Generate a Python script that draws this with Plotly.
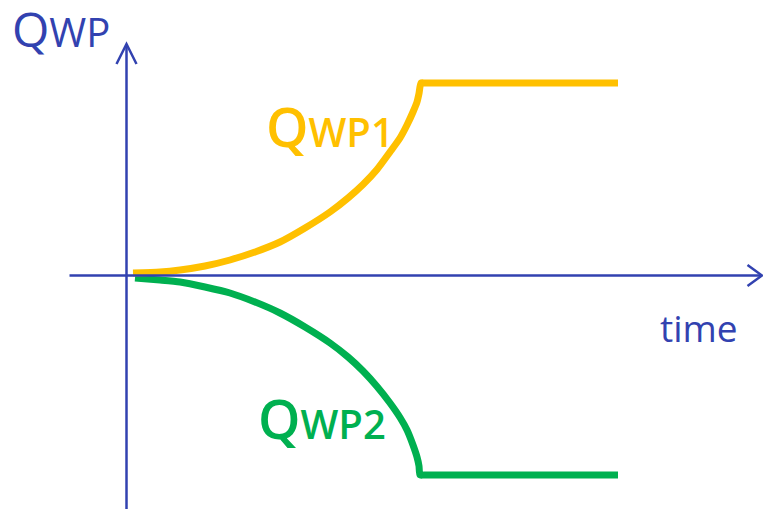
import plotly.graph_objects as go

# Data (chart units: time offset and flow, origin at the axes crossing)
t_wp1 = [6.5, 33.5, 53.5, 78.5, 103.5, 128.5, 153.5, 178.5, 203.5, 221.5,
         236.5, 250.5, 263.5, 273.5, 280.5, 286.5, 290.5, 292.5, 294.5, 298.5, 491.5]
q_wp1 = [2.5, 3.5, 5.5, 9.5, 15.5, 23.5, 33.5, 47.5, 63.5, 77.5,
         91, 106, 123.5, 137.5, 150.5, 163.5, 173.5, 182, 192.5, 192.5, 192.5]
t_wp2 = [8.5, 33.5, 53.5, 78.5, 103.5, 128.5, 153.5, 178.5, 203.5, 221.5,
         236.5, 250.5, 263.5, 273.5, 280.5, 286.5, 290.5, 292.5, 293.5, 297.5, 491.5]
q_wp2 = [-2.5, -4.5, -6.5, -11.5, -17.5, -26.5, -37.5, -51.5, -67.5, -81.5,
         -95.5, -111, -127.5, -142, -154.5, -169.5, -181.5, -190.5, -199.5, -199.5, -199.5]

axis_title_y = "Q<span style='font-size:40px'>WP</span>"
axis_title_x = "time"
label_wp1 = "Q<span style='font-size:40px'>WP1</span>"
label_wp2 = "Q<span style='font-size:40px'>WP2</span>"

BLUE = "#3242B0"
YELLOW = "#FFC000"
GREEN = "#00B050"
FONT = "Open Sans"

fig = go.Figure()

# axes lines and arrowheads
axis_line = dict(color=BLUE, width=2.5)
fig.add_shape(type="line", x0=0, x1=0, y0=-240, y1=231.5, line=axis_line)
fig.add_shape(type="line", x0=-57, x1=635.5, y0=0, y1=0, line=axis_line)
fig.add_shape(type="path", path="M -10,211.5 L 0,231.5 L 10,211.5", line=axis_line)
fig.add_shape(type="path", path="M 621,10.5 L 635.5,0 L 621,-10.5", line=axis_line)

fig.add_trace(go.Scatter(x=t_wp2, y=q_wp2, mode="lines",
                         line=dict(color=GREEN, width=7, shape="spline", smoothing=0.6),
                         hoverinfo="skip"))
fig.add_trace(go.Scatter(x=t_wp1, y=q_wp1, mode="lines",
                         line=dict(color=YELLOW, width=7, shape="spline", smoothing=0.6),
                         hoverinfo="skip"))

fig.add_annotation(x=-116.5, y=212.5, text=axis_title_y, showarrow=False,
                   xanchor="left", yanchor="bottom",
                   font=dict(family=FONT, size=48, color=BLUE, weight=400))
fig.add_annotation(x=531, y=-79, text=axis_title_x, showarrow=False,
                   xanchor="left", yanchor="bottom",
                   font=dict(family=FONT, size=37, color=BLUE, weight=400))
fig.add_annotation(x=137, y=110.5, text=label_wp1, showarrow=False,
                   xanchor="left", yanchor="bottom",
                   font=dict(family=FONT, size=54, color=YELLOW, weight=600))
fig.add_annotation(x=129, y=-181.5, text=label_wp2, showarrow=False,
                   xanchor="left", yanchor="bottom",
                   font=dict(family=FONT, size=54, color=GREEN, weight=600))

fig.update_layout(
    width=763, height=509, autosize=False,
    margin=dict(l=0, r=0, t=0, b=0),
    paper_bgcolor="white", plot_bgcolor="white",
    showlegend=False,
    xaxis=dict(range=[-126.5, 636.5], visible=False, fixedrange=True),
    yaxis=dict(range=[-233.5, 275.5], visible=False, fixedrange=True),
)

fig.write_html("out.html", config={"displayModeBar": False},
               post_script="document.body.style.margin='0';")
